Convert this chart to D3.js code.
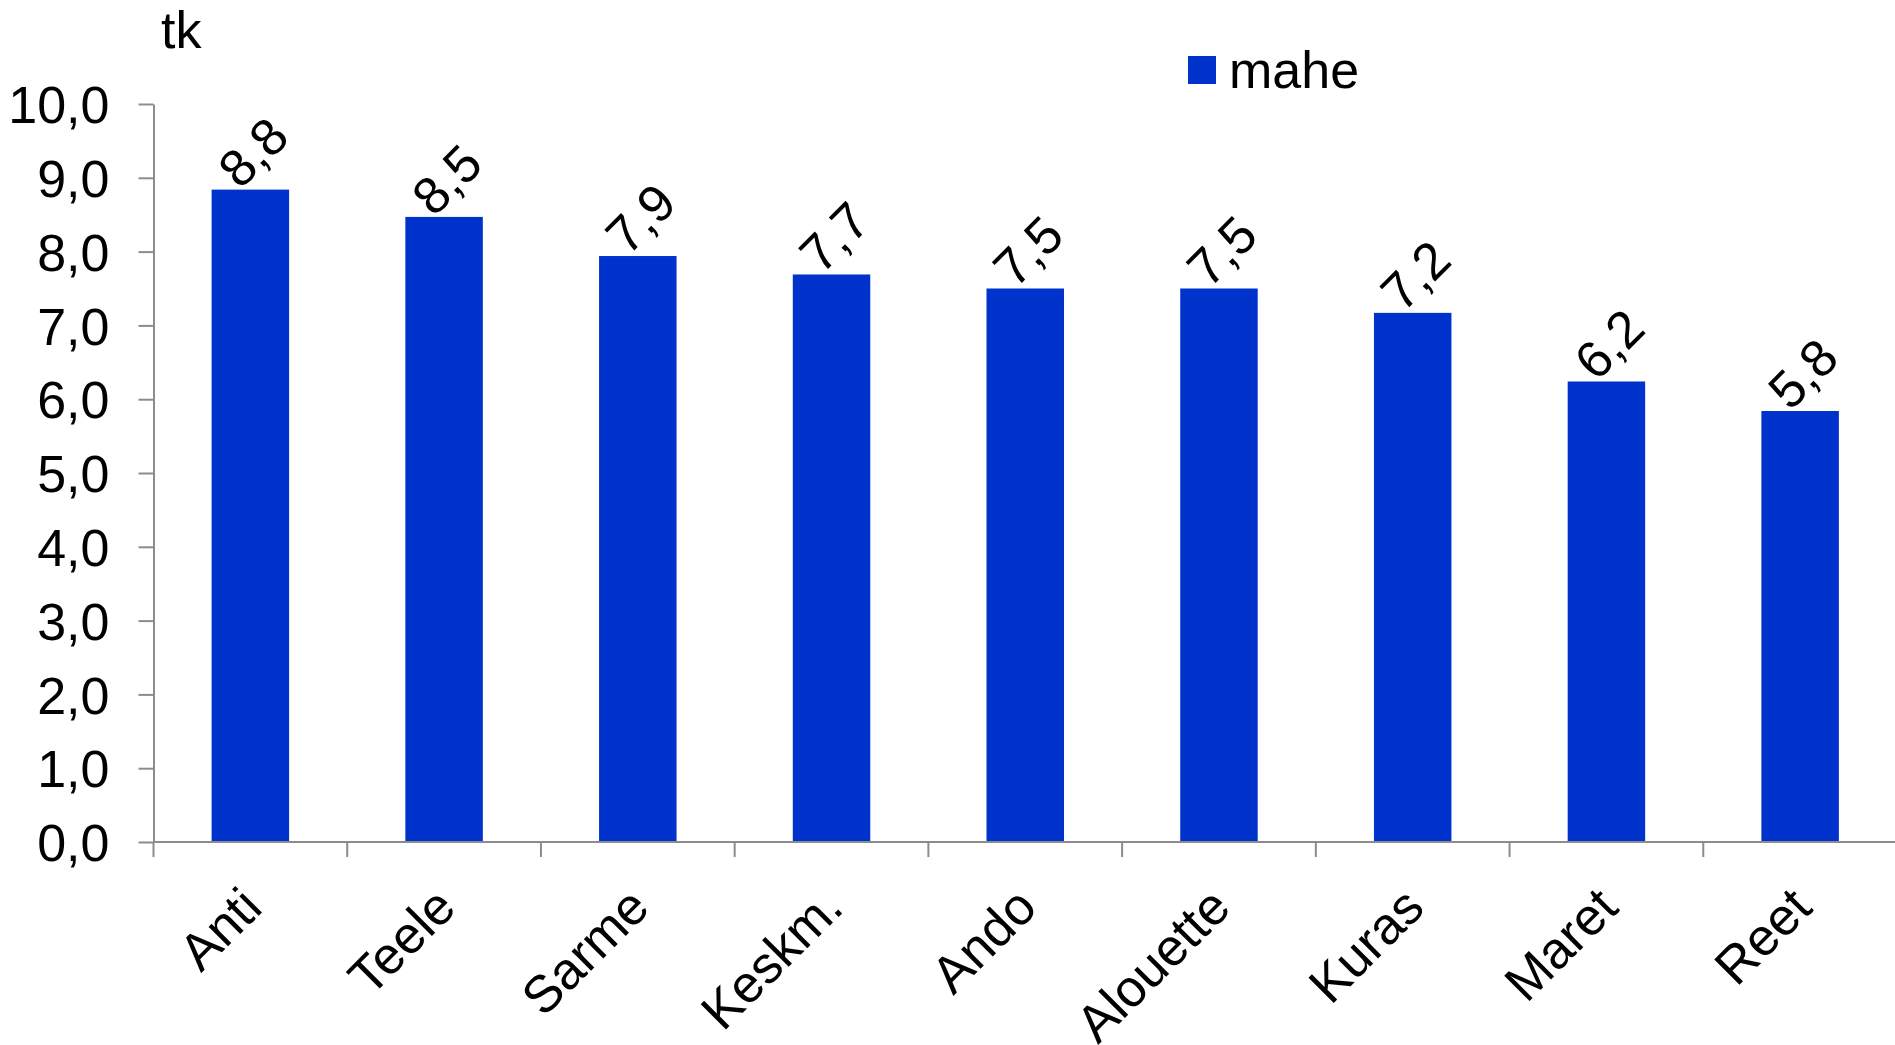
<!DOCTYPE html>
<html>
<head>
<meta charset="utf-8">
<script src="https://cdn.jsdelivr.net/npm/d3@7"></script>
<style>
  body { margin: 0; background: #fff; }
  text { font-family: "Liberation Sans", Arial, sans-serif; fill: #000; }
</style>
</head>
<body>
<div id="chart"></div>
<script>
var canvasWidth = 1895;
var canvasHeight = 1045;

var categories = ["Anti", "Teele", "Sarme", "Keskm.", "Ando", "Alouette", "Kuras", "Maret", "Reet"];
var mahe = [8.84, 8.47, 7.94, 7.69, 7.50, 7.50, 7.17, 6.24, 5.84];
var yTicks = [0, 1, 2, 3, 4, 5, 6, 7, 8, 9, 10];
var seriesName = "mahe";
var unitLabel = "tk";

var barColor = "#0033cc";
var axisColor = "#8c8c8c";
var fontSize = "52px";

var plotLeft = 153.5, plotRight = 1897, plotTop = 104, plotBottom = 842;

var svg = d3.select("#chart")
    .append("svg")
    .attr("width", canvasWidth)
    .attr("height", canvasHeight);

var x = d3.scaleBand()
    .domain(categories)
    .range([plotLeft, plotRight])
    .padding(0);

var y = d3.scaleLinear()
    .domain([0, 10])
    .range([plotBottom, plotTop]);

var fmt = function(d) { return d.toFixed(1).replace(".", ","); };

// bars
var barW = x.bandwidth() * 0.4;
svg.append("g")
    .selectAll("rect")
    .data(mahe)
    .join("rect")
    .attr("x", function(d, i) { return x(categories[i]) + (x.bandwidth() - barW) / 2; })
    .attr("y", function(d) { return y(d); })
    .attr("width", barW)
    .attr("height", function(d) { return y(0) - y(d); })
    .attr("fill", barColor);

// y axis
var yAxis = svg.append("g")
    .attr("transform", "translate(" + plotLeft + ",0)")
    .call(d3.axisLeft(y).tickValues(yTicks).tickSize(15).tickSizeOuter(0).tickPadding(29).tickFormat(fmt));
yAxis.select(".domain").attr("stroke", axisColor).attr("stroke-width", 2);
yAxis.selectAll(".tick line").attr("stroke", axisColor).attr("stroke-width", 2);
yAxis.selectAll(".tick text")
    .attr("font-size", fontSize)
    .attr("font-family", "Liberation Sans, Arial, sans-serif")
    .attr("fill", "#000")
    .attr("dy", "0.36em");

// x axis (ticks at band boundaries)
svg.append("line")
    .attr("x1", plotLeft).attr("x2", canvasWidth)
    .attr("y1", plotBottom).attr("y2", plotBottom)
    .attr("stroke", axisColor).attr("stroke-width", 2);

svg.append("g")
    .selectAll("line")
    .data(categories)
    .join("line")
    .attr("x1", function(d) { return x(d); })
    .attr("x2", function(d) { return x(d); })
    .attr("y1", plotBottom)
    .attr("y2", plotBottom + 15)
    .attr("stroke", axisColor).attr("stroke-width", 2);

// category labels
svg.append("g")
    .selectAll("text")
    .data(categories)
    .join("text")
    .attr("transform", function(d) {
        return "translate(" + (x(d) + x.bandwidth() / 2 + 14) + "," + 910 + ") rotate(-45)";
    })
    .attr("text-anchor", "end")
    .attr("font-size", fontSize)
    .text(function(d) { return d; });

// value labels
svg.append("g")
    .selectAll("text")
    .data(mahe)
    .join("text")
    .attr("transform", function(d, i) {
        var cx = x(categories[i]) + x.bandwidth() / 2;
        return "translate(" + (cx - 10) + "," + (y(d) + 1) + ") rotate(-45)";
    })
    .attr("text-anchor", "start")
    .attr("font-size", fontSize)
    .text(function(d) { return fmt(d); });

// unit label
svg.append("text")
    .attr("x", 161)
    .attr("y", 48)
    .attr("font-size", fontSize)
    .text(unitLabel);

// legend
svg.append("rect")
    .attr("x", 1188).attr("y", 56)
    .attr("width", 28).attr("height", 28)
    .attr("fill", barColor);
svg.append("text")
    .attr("x", 1229)
    .attr("y", 88)
    .attr("font-size", fontSize)
    .text(seriesName);
</script>
</body>
</html>
